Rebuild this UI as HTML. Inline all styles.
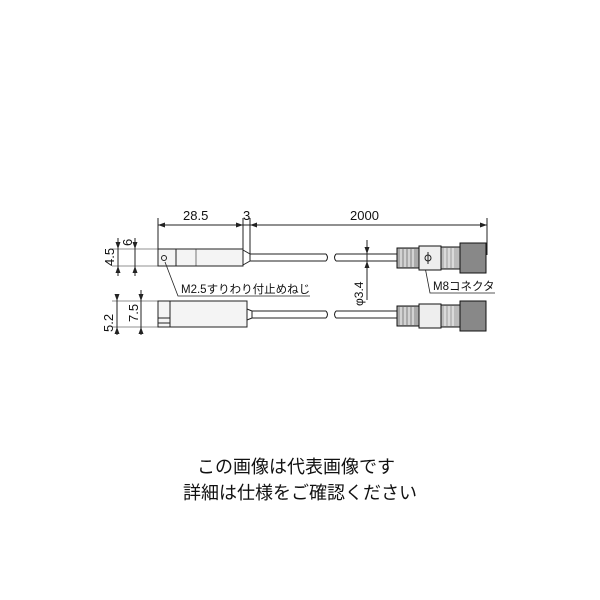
<!DOCTYPE html>
<html><head><meta charset="utf-8"><style>
body{margin:0;background:#fff;width:600px;height:600px;overflow:hidden}
svg{position:absolute;left:0;top:0}
.t{font-family:"Liberation Sans","Noto Sans CJK JP",sans-serif;fill:#111}
</style></head><body>
<svg width="600" height="600" viewBox="0 0 600 600">
<g stroke="#222" stroke-width="1" fill="none">
<line x1="158" y1="218" x2="158" y2="250"/>
<line x1="243" y1="218" x2="243" y2="250"/>
<line x1="250" y1="218" x2="250" y2="254"/>
<line x1="487" y1="218" x2="487" y2="255"/>
<line x1="158" y1="225" x2="243" y2="225"/>
<line x1="250" y1="225" x2="487" y2="225"/>
<line x1="236" y1="225" x2="260" y2="225"/>
<line x1="112" y1="249" x2="160" y2="249" stroke-width=".6"/>
<line x1="112" y1="266" x2="160" y2="266" stroke-width=".6"/>
<line x1="118" y1="238" x2="118" y2="276"/>
<line x1="135" y1="238" x2="135" y2="276"/>
<line x1="112" y1="301" x2="160" y2="301" stroke-width=".6"/>
<line x1="112" y1="327" x2="160" y2="327" stroke-width=".6"/>
<line x1="117" y1="294" x2="117" y2="335"/>
<line x1="141" y1="290" x2="141" y2="335"/>
<rect x="158" y="249" width="85" height="17" fill="#f4f4f4"/>
<line x1="176" y1="249" x2="176" y2="266"/>
<line x1="196" y1="249" x2="196" y2="266" stroke-width=".6"/>
<circle cx="164" cy="258" r="2.5"/>
<path d="M243 250 L250 254 L250 261 L243 265"/>
<path d="M250 254 H326 M250 261 H326 M336 254 H397 M336 261 H397"/>
<path d="M326 254 q3 3.5 0 7 M336 254 q-3 3.5 0 7"/>
<rect x="158" y="301" width="89" height="26" fill="#f4f4f4"/>
<path d="M158 318 H170 V323 H158" />
<line x1="170" y1="301" x2="170" y2="327"/>
<path d="M247 309 L252 311 V318 L247 320"/>
<path d="M252 311 H326 M252 318 H326 M336 311 H397 M336 318 H397"/>
<path d="M326 311 q3 3.5 0 7 M336 311 q-3 3.5 0 7"/>
<line x1="367" y1="240" x2="367" y2="300"/>
<path d="M165 262 L178 296 H310" stroke-width=".8"/>
<path d="M425 267 L430 293 H495" stroke-width=".8"/>
</g>
<g fill="#222">
<path d="M158 225 l7 -2.5 v5z M243 225 l-7 -2.5 v5z M250 225 l7 -2.5 v5z M487 225 l-7 -2.5 v5z"/>
<path d="M118 249 l-2.5 -7 h5z M118 266 l-2.5 7 h5z M135 249 l-2.5 -7 h5z M135 266 l-2.5 7 h5z"/>
<path d="M117 301 l-2.5 -7 h5z M117 327 l-2.5 7 h5z M141 301 l-2.5 -7 h5z M141 327 l-2.5 7 h5z"/>
<path d="M367 254 l-2.5 -7 h5z M367 261 l-2.5 7 h5z"/>
</g>
<g id="c" stroke="#111" stroke-width="1">
<rect x="397" y="248" width="22" height="20" fill="#aaa"/>
<rect x="419" y="246" width="22" height="24" fill="#eee"/>
<rect x="441" y="247" width="19" height="22" fill="#bbb"/>
<rect x="460" y="243" width="26" height="30" fill="#888"/>
<g stroke="#eee" stroke-width="1.2">
<line x1="401" y1="249" x2="401" y2="267"/><line x1="405" y1="249" x2="405" y2="267"/><line x1="409" y1="249" x2="409" y2="267"/><line x1="413" y1="249" x2="413" y2="267"/>
<line x1="445" y1="248" x2="445" y2="268"/><line x1="449" y1="248" x2="449" y2="268"/><line x1="453" y1="248" x2="453" y2="268"/>
</g>
</g>
<circle cx="428" cy="258" r="3" fill="none" stroke="#222"/>
<line x1="428" y1="252" x2="428" y2="264" stroke="#222"/>
<use href="#c" transform="translate(0,58)"/>
<g class="t">
<text x="183" y="220" font-size="13">28.5</text>
<text x="243" y="220" font-size="13">3</text>
<text x="350" y="220" font-size="13">2000</text>
<text transform="translate(114,266) rotate(-90)" font-size="13">4.5</text>
<text transform="translate(132,246) rotate(-90)" font-size="13">6</text>
<text transform="translate(113,332) rotate(-90)" font-size="13">5.2</text>
<text transform="translate(138,322) rotate(-90)" font-size="13">7.5</text>
<text transform="translate(363,306) rotate(-90)" font-size="12">φ3.4</text>
<text x="181" y="293" font-size="11.5">M2.5すりわり付止めねじ</text>
<text x="433" y="290" font-size="11.5">M8コネクタ</text>
<text x="296" y="473" font-size="18" text-anchor="middle">この画像は代表画像です</text>
<text x="300" y="499" font-size="18" text-anchor="middle">詳細は仕様をご確認ください</text>
</g>
</svg>
</body></html>
